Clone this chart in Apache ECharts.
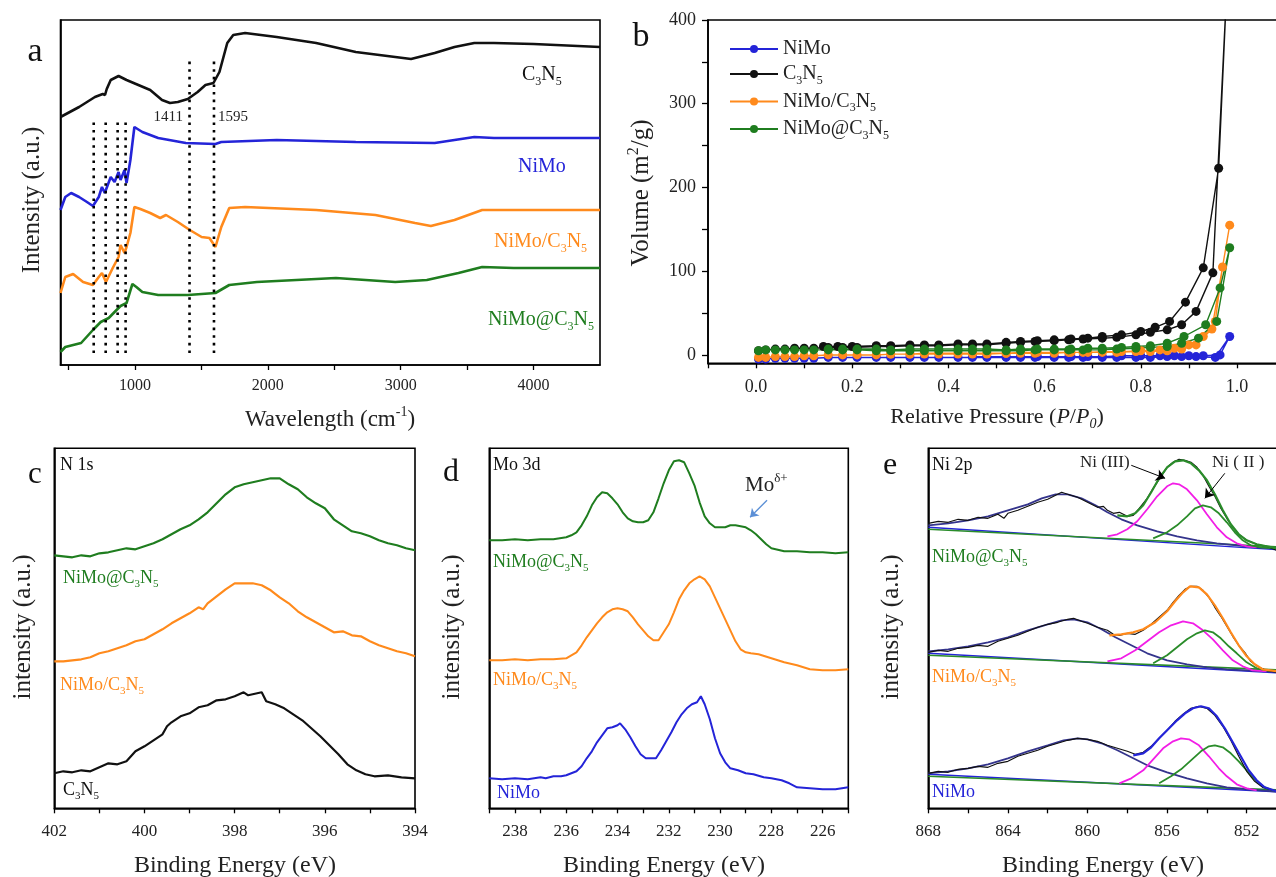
<!DOCTYPE html>
<html><head><meta charset="utf-8">
<script src="https://cdn.jsdelivr.net/npm/echarts@6/dist/echarts.min.js"></script>
<style>html,body{margin:0;padding:0;background:#fff}#c{width:1276px;height:877px}</style>
</head><body><div id="c"></div>
<script>
const FONT = 'Liberation Serif';
// ---------- Panel a: FTIR ----------
const ftirC3N5 = [[440,248],[580,258],[699,268],[758,271],[775,270],[788,276],[818,285],[877,289],[937,285],[1026,280],[1115,275],[1204,265],[1264,262],[1323,263],[1398,266],[1472,273],[1531,280],[1591,282],[1636,293],[1695,322],[1740,330],[1829,332],[2067,328],[2364,322],[2662,313],[2959,308],[3078,306],[3256,312],[3405,318],[3554,322],[3702,322],[4000,321],[4500,318]];
const ftirNiMo = [[440,155],[476,168],[520,172],[580,168],[639,163],[684,159],[728,168],[752,178],[773,172],[818,188],[847,183],[877,193],[892,185],[922,195],[937,182],[966,205],[996,238],[1011,239],[1056,233],[1175,227],[1383,222],[1606,221],[1650,223],[2067,225],[2662,223],[3256,222],[3554,228],[3702,227],[4500,227]];
const ftirNiMoC3N5 = [[440,72],[476,88],[535,91],[610,83],[684,80],[728,88],[752,92],[782,83],[833,97],[877,108],[892,120],[922,112],[937,118],[966,132],[996,158],[1041,156],[1115,152],[1190,147],[1234,150],[1323,143],[1413,135],[1502,128],[1561,127],[1606,118],[1650,138],[1710,157],[1829,158],[2364,155],[2810,150],[3108,142],[3227,139],[3405,145],[3613,155],[4500,155]];
const ftirNiMoAtC3N5 = [[440,13],[476,18],[595,22],[684,35],[743,43],[803,47],[847,53],[892,59],[937,62],[981,81],[1011,78],[1056,73],[1175,70],[1398,70],[1606,72],[1710,80],[1918,83],[2513,87],[2959,83],[3197,85],[3435,92],[3613,98],[3851,97],[4500,97]];
const ftirMarks = [[690,12,247],[780,12,247],[870,12,247],[930,12,247],[1411,12,305],[1595,12,305]];
const ftirTicks = [500,1000,1500,2000,2500,3000,3500,4000];
const ftirLabels = [1000,2000,3000,4000];
// ---------- Panel b: N2 isotherms ----------
const bNiMo = [[0.005,-5],[0.02,-5],[0.04,-4],[0.06,-4],[0.08,-4],[0.1,-4],[0.12,-4],[0.15,-3],[0.18,-3],[0.21,-3],[0.25,-3],[0.28,-3],[0.32,-3],[0.35,-3],[0.38,-3],[0.42,-3],[0.45,-3],[0.48,-3],[0.52,-3],[0.55,-3],[0.58,-3],[0.62,-3],[0.65,-3],[0.68,-3],[0.72,-3],[0.75,-3],[0.79,-3],[0.82,-3],[0.855,-2],[0.885,-2],[0.915,-2],[0.955,-3],[0.985,22],[0.965,0],[0.93,-1],[0.9,-1],[0.87,-1],[0.84,-1],[0.8,-1],[0.76,-1],[0.72,-2],[0.69,-2],[0.655,-2],[0.62,-2],[0.585,-2],[0.55,-2],[0.52,-2],[0.48,-2],[0.45,-2]];
const bC3N5 = [[0.005,5],[0.02,6],[0.04,7],[0.06,7],[0.08,8],[0.1,8],[0.12,8],[0.15,9],[0.18,9],[0.21,9],[0.25,10],[0.28,10],[0.32,11],[0.35,11],[0.38,11],[0.42,12],[0.45,12],[0.48,12],[0.52,14],[0.55,15],[0.58,16],[0.62,17],[0.65,18],[0.68,19],[0.72,20],[0.75,21],[0.79,24],[0.82,27],[0.855,30],[0.885,36],[0.915,52],[0.95,98],[0.979,440],[0.962,223],[0.93,104],[0.893,63],[0.86,40],[0.83,33],[0.8,28],[0.76,24],[0.72,22],[0.69,20],[0.655,19],[0.62,18],[0.585,17],[0.55,16],[0.52,15],[0.48,13],[0.45,13],[0.42,13],[0.38,12],[0.35,12],[0.32,12],[0.28,11],[0.25,11],[0.2,10],[0.17,10],[0.14,10]];
const bNiMoC3N5 = [[0.005,-3],[0.02,-3],[0.04,-2],[0.06,-2],[0.08,-2],[0.1,-1],[0.12,-1],[0.15,0],[0.18,0],[0.21,0],[0.25,0],[0.28,1],[0.32,1],[0.35,1],[0.38,1],[0.42,1],[0.45,1],[0.48,1],[0.52,2],[0.55,2],[0.58,2],[0.62,2],[0.65,3],[0.68,3],[0.72,3],[0.75,3],[0.79,4],[0.82,4],[0.855,5],[0.885,7],[0.915,12],[0.948,31],[0.985,155],[0.97,105],[0.955,40],[0.93,22],[0.9,12],[0.87,8],[0.84,6],[0.8,5],[0.76,4],[0.72,4],[0.69,3],[0.655,3],[0.62,3],[0.585,3],[0.55,3],[0.52,2],[0.48,2],[0.45,2],[0.42,2],[0.38,2],[0.35,2],[0.32,1],[0.28,1]];
const bNiMoAtC3N5 = [[0.005,5],[0.02,6],[0.04,6],[0.06,6],[0.08,6],[0.1,6],[0.12,6],[0.15,6],[0.18,6],[0.21,6],[0.25,5],[0.28,5],[0.32,5],[0.35,5],[0.38,5],[0.42,5],[0.45,5],[0.48,5],[0.52,5],[0.55,5],[0.58,6],[0.62,6],[0.65,6],[0.68,6],[0.72,6],[0.75,7],[0.79,8],[0.82,9],[0.855,10],[0.885,14],[0.92,20],[0.958,40],[0.985,128],[0.965,80],[0.935,36],[0.89,22],[0.855,14],[0.82,11],[0.79,10],[0.76,9],[0.72,8],[0.69,8],[0.655,7],[0.62,7],[0.585,7],[0.55,7],[0.52,6],[0.48,7],[0.45,7],[0.42,7],[0.38,7],[0.35,7],[0.32,7],[0.28,6],[0.25,7],[0.21,7],[0.18,7],[0.15,7]];
const bXTicks = [-0.1,0,0.1,0.2,0.3,0.4,0.5,0.6,0.7,0.8,0.9,1.0,1.1];
const bXLabels = [0,0.2,0.4,0.6,0.8,1.0];
const bYTicks = [0,50,100,150,200,250,300,350,400];
const bYLabels = [0,100,200,300,400];
// ---------- Panel c: N 1s ----------
const cNiMoAtC3N5 = [[402,253],[401.8,252],[401.6,251],[401.4,253],[401.2,252],[401.0,255],[400.8,256],[400.6,258],[400.4,260],[400.2,259],[400.0,262],[399.8,265],[399.6,269],[399.4,274],[399.2,279],[399.0,283],[398.8,289],[398.6,296],[398.4,305],[398.2,314],[398.0,321],[397.8,324],[397.6,326],[397.4,328],[397.2,330],[397.0,330],[396.8,324],[396.6,319],[396.4,311],[396.2,305],[396.0,300],[395.8,289],[395.6,283],[395.4,277],[395.2,275],[395.0,272],[394.8,268],[394.6,265],[394.4,263],[394.2,260],[394.0,258]];
const cNiMoC3N5 = [[402,147],[401.8,147],[401.6,148],[401.4,149],[401.2,151],[401.0,155],[400.8,157],[400.6,160],[400.4,163],[400.2,167],[400.0,169],[399.8,174],[399.6,179],[399.4,185],[399.2,190],[399.0,195],[398.8,201],[398.7,199],[398.6,205],[398.4,212],[398.2,219],[398.0,225],[397.8,225],[397.6,225],[397.4,223],[397.2,218],[397.0,211],[396.8,205],[396.6,197],[396.4,191],[396.2,186],[396.0,181],[395.8,176],[395.6,177],[395.4,173],[395.2,172],[395.0,167],[394.8,163],[394.6,160],[394.4,157],[394.2,155],[394.0,152]];
const cC3N5 = [[402,35],[401.8,37],[401.6,36],[401.4,38],[401.2,37],[401.0,41],[400.8,45],[400.6,44],[400.4,47],[400.2,57],[400.0,62],[399.8,68],[399.6,74],[399.5,82],[399.4,86],[399.2,92],[399.0,95],[398.8,101],[398.6,103],[398.4,108],[398.2,109],[398.0,112],[397.8,116],[397.7,113],[397.5,115],[397.4,116],[397.3,107],[397.1,104],[396.9,100],[396.7,94],[396.5,88],[396.3,80],[396.1,72],[395.9,63],[395.7,54],[395.5,44],[395.3,38],[395.1,34],[394.9,32],[394.6,33],[394.3,31],[394.0,30]];
const cTicks = [394,395,396,397,398,399,400,401,402];
const cLabels = [394,396,398,400,402];
// ---------- Panel d: Mo 3d ----------
const dNiMoAtC3N5 = [[239,268],[238.5,268],[238,269],[237.5,268],[237,269],[236.5,269],[236,271],[235.8,273],[235.6,276],[235.4,283],[235.2,292],[235,303],[234.8,311],[234.6,316],[234.4,315],[234.2,310],[234,304],[233.8,296],[233.6,290],[233.4,287],[233.2,286],[233,286],[232.8,288],[232.6,296],[232.4,310],[232.2,325],[232,338],[231.8,347],[231.6,348],[231.4,346],[231.2,335],[231,323],[230.8,306],[230.6,292],[230.4,285],[230.2,281],[230,281],[229.8,281],[229.6,283],[229.4,283],[229.2,282],[229,281],[228.8,278],[228.6,274],[228.4,269],[228.2,264],[228,260],[227.5,257],[227,257],[226.5,256],[226,256],[225.5,255],[225,256]];
const dNiMoC3N5 = [[239,148],[238.5,148],[238,149],[237.5,148],[237,149],[236.5,149],[236,150],[235.8,153],[235.6,156],[235.4,163],[235.2,171],[235,178],[234.8,185],[234.6,191],[234.4,196],[234.2,199],[234,200],[233.8,199],[233.6,197],[233.4,191],[233.2,184],[233,178],[232.8,172],[232.6,168],[232.4,168],[232.2,176],[232,184],[231.8,196],[231.6,209],[231.4,218],[231.2,225],[231,229],[230.8,232],[230.6,229],[230.4,222],[230.2,211],[230,200],[229.8,189],[229.6,178],[229.4,167],[229.2,159],[229,156],[228.8,155],[228.5,154],[228,150],[227.5,146],[227,143],[226.5,139],[226,138],[225.5,138],[225,139]];
const dNiMo = [[239,30],[238.5,29],[238,30],[237.5,29],[237,31],[236.8,30],[236.5,32],[236.2,32],[236,33],[235.8,35],[235.6,37],[235.4,42],[235.2,50],[235,57],[234.8,66],[234.6,73],[234.4,80],[234.2,81],[234,83],[233.9,85],[233.7,79],[233.5,71],[233.3,62],[233.1,54],[232.9,50],[232.7,50],[232.5,50],[232.3,58],[232.1,67],[231.9,76],[231.7,86],[231.5,94],[231.3,100],[231.1,104],[230.9,106],[230.75,112],[230.6,104],[230.4,89],[230.2,70],[230,55],[229.8,46],[229.6,40],[229.3,38],[229,35],[228.7,34],[228.3,31],[228,30],[227.6,28],[227.3,25],[227,21],[226.5,20],[226,19],[225.5,19],[225,21]];
const dTicks = [225,226,227,228,229,230,231,232,233,234,235,236,237,238,239];
const dLabels = [226,228,230,232,234,236,238];
// ---------- Panel e: Ni 2p ----------
const eTopRaw = [[868,285],[867.5,287],[867,286],[866.5,289],[866,288],[865.5,291],[865,290],[864.5,294],[864.2,290],[864,295],[863.5,298],[863,302],[862.5,306],[862,309],[861.7,312],[861.3,316],[861,314],[860.5,311],[860,306],[859.5,301],[859.2,302],[859,298],[858.7,295],[858.4,296],[858,292],[857.7,293],[857.4,300],[857,310],[856.7,320],[856.3,332],[856,341],[855.7,346],[855.4,349],[855.1,348],[854.8,346],[854.5,341],[854.2,333],[853.9,322],[853.6,312],[853.3,300],[853,290],[852.7,281],[852.4,274],[852,268],[851.5,264],[851,262],[850.5,258]];
const eTopSat = [[868,283],[867,285],[866,288],[865,292],[864,298],[863,304],[862.3,310],[861.6,314],[861,314],[860.3,310],[859.6,303],[859,296],[858.3,289],[857.5,283],[856.5,277],[855.5,272],[854.5,268],[853.5,265],[852.5,263],[851.5,261],[850,259]];
const eTopNi3 = [[859,272],[858.5,274],[858,279],[857.5,287],[857,299],[856.5,312],[856,322],[855.7,325],[855.4,324],[855,319],[854.5,308],[854,294],[853.5,281],[853,271],[852.5,265],[852,262],[851.5,261]];
const eTopNi2 = [[856.7,270],[856,276],[855.5,283],[855,292],[854.6,300],[854.2,303],[853.8,301],[853.4,295],[853,286],[852.6,276],[852.2,268],[851.8,263],[851.3,261],[850.5,260]];
const eTopFit = [[858.5,293],[858,292],[857.6,295],[857.2,303],[856.8,316],[856.4,330],[856,341],[855.6,347],[855.2,348],[854.8,345],[854.4,338],[854,328],[853.6,314],[853.2,298],[852.8,284],[852.4,274],[852,268],[851.5,264],[851,262],[850.5,260],[850,259]];
const eTopBase = [[868,279],[850,261]];
const eTopBaseB = [[868,281],[850,258]];
const eMidRaw = [[868,156],[867.5,158],[867,157],[866.5,160],[866,161],[865.5,163],[865,162],[864.5,167],[864,170],[863.5,173],[863,177],[862.5,181],[862,184],[861.5,186],[861,189],[860.7,190],[860.3,187],[860,185],[859.5,181],[859,178],[858.7,174],[858.4,173],[858,175],[857.6,174],[857.2,178],[856.8,184],[856.4,191],[856,198],[855.7,206],[855.4,213],[855.1,219],[854.8,222],[854.5,222],[854.2,218],[853.9,211],[853.6,201],[853.3,192],[853,182],[852.7,172],[852.4,163],[852.1,156],[851.8,147],[851.4,141],[851,138],[850.5,136]];
const eMidSat = [[868,157],[867,159],[866,162],[865,166],[864,171],[863,178],[862,184],[861.3,188],[860.7,189],[860,186],[859.3,179],[858.6,171],[858,165],[857,155],[856,148],[855,144],[854,141],[853,139],[852,138],[850,136]];
const eMidNi3 = [[859,147],[858.3,150],[857.6,158],[857,167],[856.4,176],[855.8,183],[855.2,187],[854.7,185],[854.2,178],[853.7,169],[853.2,158],[852.7,148],[852.2,142],[851.7,138],[851,137]];
const eMidNi2 = [[856.7,145],[856,153],[855.5,161],[855,169],[854.5,175],[854.1,178],[853.7,176],[853.3,170],[852.9,162],[852.5,155],[852,146],[851.5,140],[851,138],[850.5,137]];
const eMidFit = [[858.9,173],[858.3,174],[857.7,176],[857.2,179],[856.6,186],[856,197],[855.6,207],[855.2,216],[854.85,222],[854.4,221],[854,214],[853.6,203],[853.2,190],[852.8,176],[852.4,163],[852,152],[851.6,144],[851.2,139],[850.5,137],[850,136]];
const eMidBase = [[868,153],[850,138]];
const eMidBaseB = [[868,155],[850,135]];
const eBotRaw = [[868,35],[867.5,37],[867,36],[866.5,39],[866,40],[865.5,42],[865,41],[864.5,45],[864,47],[863.5,52],[863,55],[862.5,58],[862,62],[861.5,65],[861,68],[860.5,70],[860,69],[859.5,67],[859,63],[858.5,60],[858,57],[857.6,54],[857.2,56],[856.8,62],[856.4,70],[856,78],[855.6,87],[855.2,94],[854.8,100],[854.4,102],[854,100],[853.6,93],[853.2,82],[852.8,68],[852.4,52],[852,37],[851.6,27],[851.2,21],[850.5,17]];
const eBotSat = [[868,35],[867,37],[866,40],[865,44],[864,50],[863,57],[862,63],[861.2,68],[860.5,70],[860,69],[859.3,65],[858.5,58],[857.7,50],[857,43],[856,36],[855,30],[854,25],[853,21],[852,19],[850,16]];
const eBotNi3 = [[858.4,25],[857.8,30],[857.2,38],[856.7,49],[856.2,60],[855.7,67],[855.3,70],[854.9,69],[854.4,63],[853.9,52],[853.4,40],[853,32],[852.5,24],[852,20],[851.5,18]];
const eBotNi2 = [[856.4,25],[855.8,32],[855.3,39],[854.8,48],[854.3,57],[853.9,62],[853.6,63],[853.2,61],[852.8,55],[852.4,47],[852,38],[851.6,29],[851.2,22],[850.7,18],[850,16]];
const eBotFit = [[857.7,53],[857.2,55],[856.8,61],[856.4,70],[856,78],[855.5,88],[855.1,95],[854.7,100],[854.3,102],[853.9,100],[853.5,92],[853.1,80],[852.7,66],[852.3,52],[851.9,38],[851.5,28],[851.1,21],[850.5,17],[850,16]];
const eBotBase = [[868,32],[850,18]];
const eBotBaseB = [[868,34],[850,16]];
const eTicks = [850,852,854,856,858,860,862,864,866,868];
const eLabels = [852,856,860,864,868];

// ---------- colours ----------
const BLACK='#111', BLUE='#2424d8', ORANGE='#ff8a1c', GREEN='#1f7d1f', NAVY='#34348c', MAGENTA='#f21ee6', FGREEN='#2a8c2a';

function rich(F, color){
  const b = {fontFamily:FONT, color:color};
  return {
    n:Object.assign({fontSize:F, lineHeight:Math.round(F*1.25)}, b),
    i:Object.assign({fontSize:F, fontStyle:'italic', lineHeight:Math.round(F*1.25)}, b),
    s:Object.assign({fontSize:Math.round(F*0.62), verticalAlign:'bottom', lineHeight:Math.round(F*0.62)}, b),
    si:Object.assign({fontSize:Math.round(F*0.62), fontStyle:'italic', verticalAlign:'bottom', lineHeight:Math.round(F*0.62)}, b),
    u:Object.assign({fontSize:Math.round(F*0.62), verticalAlign:'top', lineHeight:Math.round(F*0.62)}, b)
  };
}
function T(x, y, text, F, color, align, rot){
  return {type:'text', x:x, y:y, rotation:rot||0, z:100, silent:true,
    style:{text:text, rich:rich(F,color), fill:color, font:F+'px "'+FONT+'"',
      align:align||'left', textAlign:align||'left', verticalAlign:'middle', textVerticalAlign:'middle'}};
}
const C3N5 = '{n|C}{s|3}{n|N}{s|5}';
const NMC = '{n|NiMo/C}{s|3}{n|N}{s|5}';
const NMA = '{n|NiMo@C}{s|3}{n|N}{s|5}';

function xa(gi, min, max, ticks, labels, fmt, inverse, fs, margin){
  return {type:'value', gridIndex:gi, min:min, max:max, inverse:!!inverse,
    axisLine:{show:true, onZero:false, lineStyle:{color:'#000', width:1.6}},
    axisTick:{show:true, inside:false, length:5, customValues:ticks, lineStyle:{color:'#000', width:1.3}},
    axisLabel:{show:true, customValues:labels, formatter:fmt, color:'#222', fontSize:fs, fontFamily:FONT, margin:margin, showMinLabel:true, showMaxLabel:true},
    splitLine:{show:false}};
}
function ya(gi, min, max){
  return {type:'value', gridIndex:gi, min:min, max:max,
    axisLine:{show:true, onZero:false, lineStyle:{color:'#000', width:1.6}},
    axisTick:{show:false}, axisLabel:{show:false}, splitLine:{show:false}};
}
function L(gi, data, color, width, extra){
  return Object.assign({type:'line', xAxisIndex:gi, yAxisIndex:gi, data:data, showSymbol:false, symbol:'none',
    lineStyle:{color:color, width:width}, itemStyle:{color:color}, animation:false, silent:true, clip:true}, extra||{});
}
function B(name, data, color){
  return {type:'line', name:name, xAxisIndex:1, yAxisIndex:1, data:data, symbol:'circle', symbolSize:9,
    showSymbol:true, lineStyle:{color:color, width:1.4}, itemStyle:{color:color}, animation:false, clip:true};
}

const series = [];
series.push(L(0, ftirC3N5, BLACK, 2.6), L(0, ftirNiMo, BLUE, 2.6), L(0, ftirNiMoC3N5, ORANGE, 2.6), L(0, ftirNiMoAtC3N5, GREEN, 2.6));
ftirMarks.forEach(m => series.push(L(0, [[m[0], m[1]], [m[0], m[2]]], '#000', 2.6, {lineStyle:{color:'#000', width:2.6, type:[2.6,5]}})));
series.push(B('NiMo', bNiMo, BLUE), B('C3N5', bC3N5, BLACK), B('NiMo/C3N5', bNiMoC3N5, ORANGE), B('NiMo@C3N5', bNiMoAtC3N5, GREEN));
series.push(L(2, cNiMoAtC3N5, GREEN, 2.2), L(2, cNiMoC3N5, ORANGE, 2.2), L(2, cC3N5, BLACK, 2.2));
series.push(L(3, dNiMoAtC3N5, GREEN, 2), L(3, dNiMoC3N5, ORANGE, 2), L(3, dNiMo, BLUE, 2));
// arrow for Mo delta+
series.push(L(3, [[228.5,300]], 'rgba(0,0,0,0)', 0, {markLine:{silent:true, animation:false, symbol:['none','arrow'], symbolSize:8,
  label:{show:false}, lineStyle:{color:'#5b8fd6', width:1.3, type:'solid'},
  data:[[{coord:[228.17,308]},{coord:[228.83,291]}]]}}));
[[eTopBase,eTopBaseB,eTopSat,eTopNi3,eTopNi2,eTopRaw,eTopFit,FGREEN],
 [eMidBase,eMidBaseB,eMidSat,eMidNi3,eMidNi2,eMidRaw,eMidFit,ORANGE],
 [eBotBase,eBotBaseB,eBotSat,eBotNi3,eBotNi2,eBotRaw,eBotFit,BLUE]].forEach(g => {
  series.push(L(4, g[1], BLUE, 1.4), L(4, g[0], FGREEN, 1.6), L(4, g[2], NAVY, 1.8), L(4, g[3], MAGENTA, 1.8), L(4, g[4], FGREEN, 1.8),
    L(4, g[5], BLACK, 1.2), L(4, g[6], g[7], 2.2));
});
series.push(L(4, [[856,330]], 'rgba(0,0,0,0)', 0, {markLine:{silent:true, animation:false, symbol:['none','arrow'], symbolSize:9,
  label:{show:false}, lineStyle:{color:'#000', width:1, type:'solid'},
  data:[[{coord:[857.8,343]},{coord:[856.1,330]}],[{coord:[853.1,335]},{coord:[854.1,310]}]]}}));

const gridBase = {show:true, borderColor:'#000', borderWidth:1.6, backgroundColor:'transparent', containLabel:false, outerBoundsMode:'none'};
const option = {
  backgroundColor:'#fff', animation:false,
  textStyle:{fontFamily:FONT},
  grid:[
    Object.assign({left:60.5, top:20, width:539.5, height:345}, gridBase),
    Object.assign({left:708, top:20, width:577, height:343.3}, gridBase),
    Object.assign({left:54.3, top:448.3, width:360.7, height:360}, gridBase),
    Object.assign({left:489.3, top:448.3, width:359, height:360}, gridBase),
    Object.assign({left:928.3, top:448.3, width:358.2, height:360}, gridBase)
  ],
  xAxis:[
    xa(0, 440, 4500, ftirTicks, ftirLabels, v=>String(v), false, 16, 13),
    xa(1, -0.1, 1.1, bXTicks, bXLabels, v=>Number(v).toFixed(1), false, 18, 15),
    xa(2, 394, 402, cTicks, cLabels, v=>String(v), true, 17, 15),
    xa(3, 225, 239, dTicks, dLabels, v=>String(v), true, 17, 15),
    xa(4, 850, 868, eTicks, eLabels, v=>String(v), true, 17, 15)
  ],
  yAxis:[
    ya(0, 0, 345),
    {type:'value', gridIndex:1, min:-10, max:400,
      axisLine:{show:true, onZero:false, lineStyle:{color:'#000', width:1.6}},
      axisTick:{show:true, length:6, customValues:bYTicks, lineStyle:{color:'#000', width:1.3}},
      axisLabel:{show:true, customValues:bYLabels, color:'#222', fontSize:18, fontFamily:FONT, margin:12},
      splitLine:{show:false}},
    ya(2, 0, 360), ya(3, 0, 360), ya(4, 0, 360)
  ],
  legend:{orient:'vertical', left:724, top:34, itemWidth:48, itemHeight:10, itemGap:5,
    data:['NiMo','C3N5','NiMo/C3N5','NiMo@C3N5'],
    formatter:function(n){ return n==='NiMo' ? '{n|NiMo}' : n==='C3N5' ? C3N5 : n==='NiMo/C3N5' ? NMC : NMA; },
    textStyle:{color:'#222', fontSize:20, fontFamily:FONT, rich:rich(20,'#222')}},
  series:series,
  graphic:[
    T(35, 52, '{n|a}', 34, '#111', 'center'),
    T(641, 37, '{n|b}', 34, '#111', 'center'),
    T(35, 475, '{n|c}', 31, '#111', 'center'),
    T(451, 473, '{n|d}', 32, '#111', 'center'),
    T(890, 466, '{n|e}', 32, '#111', 'center'),
    T(32, 200, '{n|Intensity (a.u.)}', 25, '#222', 'center', Math.PI/2),
    T(330, 420, '{n|Wavelength (cm}{u|-1}{n|)}', 23, '#222', 'center'),
    T(522, 75, C3N5, 20, BLACK), T(518, 167, '{n|NiMo}', 20, BLUE), T(494, 242, NMC, 20, ORANGE), T(488, 320, NMA, 20, GREEN),
    T(183, 117, '{n|1411}', 15, '#222', 'right'), T(218, 117, '{n|1595}', 15, '#222', 'left'),
    T(641, 193, '{n|Volume (m}{u|2}{n|/g)}', 25, '#222', 'center', Math.PI/2),
    T(997, 417, '{n|Relative Pressure (}{i|P}{n|/}{i|P}{si|0}{n|)}', 22, '#222', 'center'),
    T(23, 627, '{n|intensity (a.u.)}', 25, '#222', 'center', Math.PI/2),
    T(452, 627, '{n|intensity (a.u.)}', 25, '#222', 'center', Math.PI/2),
    T(891, 627, '{n|intensity (a.u.)}', 25, '#222', 'center', Math.PI/2),
    T(235, 866, '{n|Binding Energy (eV)}', 24, '#222', 'center'),
    T(664, 866, '{n|Binding Energy (eV)}', 24, '#222', 'center'),
    T(1103, 866, '{n|Binding Energy (eV)}', 24, '#222', 'center'),
    T(60, 465, '{n|N 1s}', 18, '#111'),
    T(63, 578, NMA, 18, GREEN), T(60, 685, NMC, 18, ORANGE), T(63, 790, C3N5, 18, BLACK),
    T(493, 465, '{n|Mo 3d}', 18, '#111'), T(745, 485, '{n|Mo}{u|δ+}', 21, '#222'),
    T(493, 562, NMA, 18, GREEN), T(493, 680, NMC, 18, ORANGE), T(497, 793, '{n|NiMo}', 18, BLUE),
    T(932, 465, '{n|Ni 2p}', 18, '#111'), T(1080, 463, '{n|Ni (III)}', 17, '#222'), T(1212, 463, '{n|Ni ( II )}', 17, '#222'),
    T(932, 557, NMA, 18, GREEN), T(932, 677, NMC, 18, ORANGE), T(932, 792, '{n|NiMo}', 18, BLUE)
  ]
};
const chart = echarts.init(document.getElementById('c'), null, {renderer:'canvas'});
chart.setOption(option);
</script></body></html>
